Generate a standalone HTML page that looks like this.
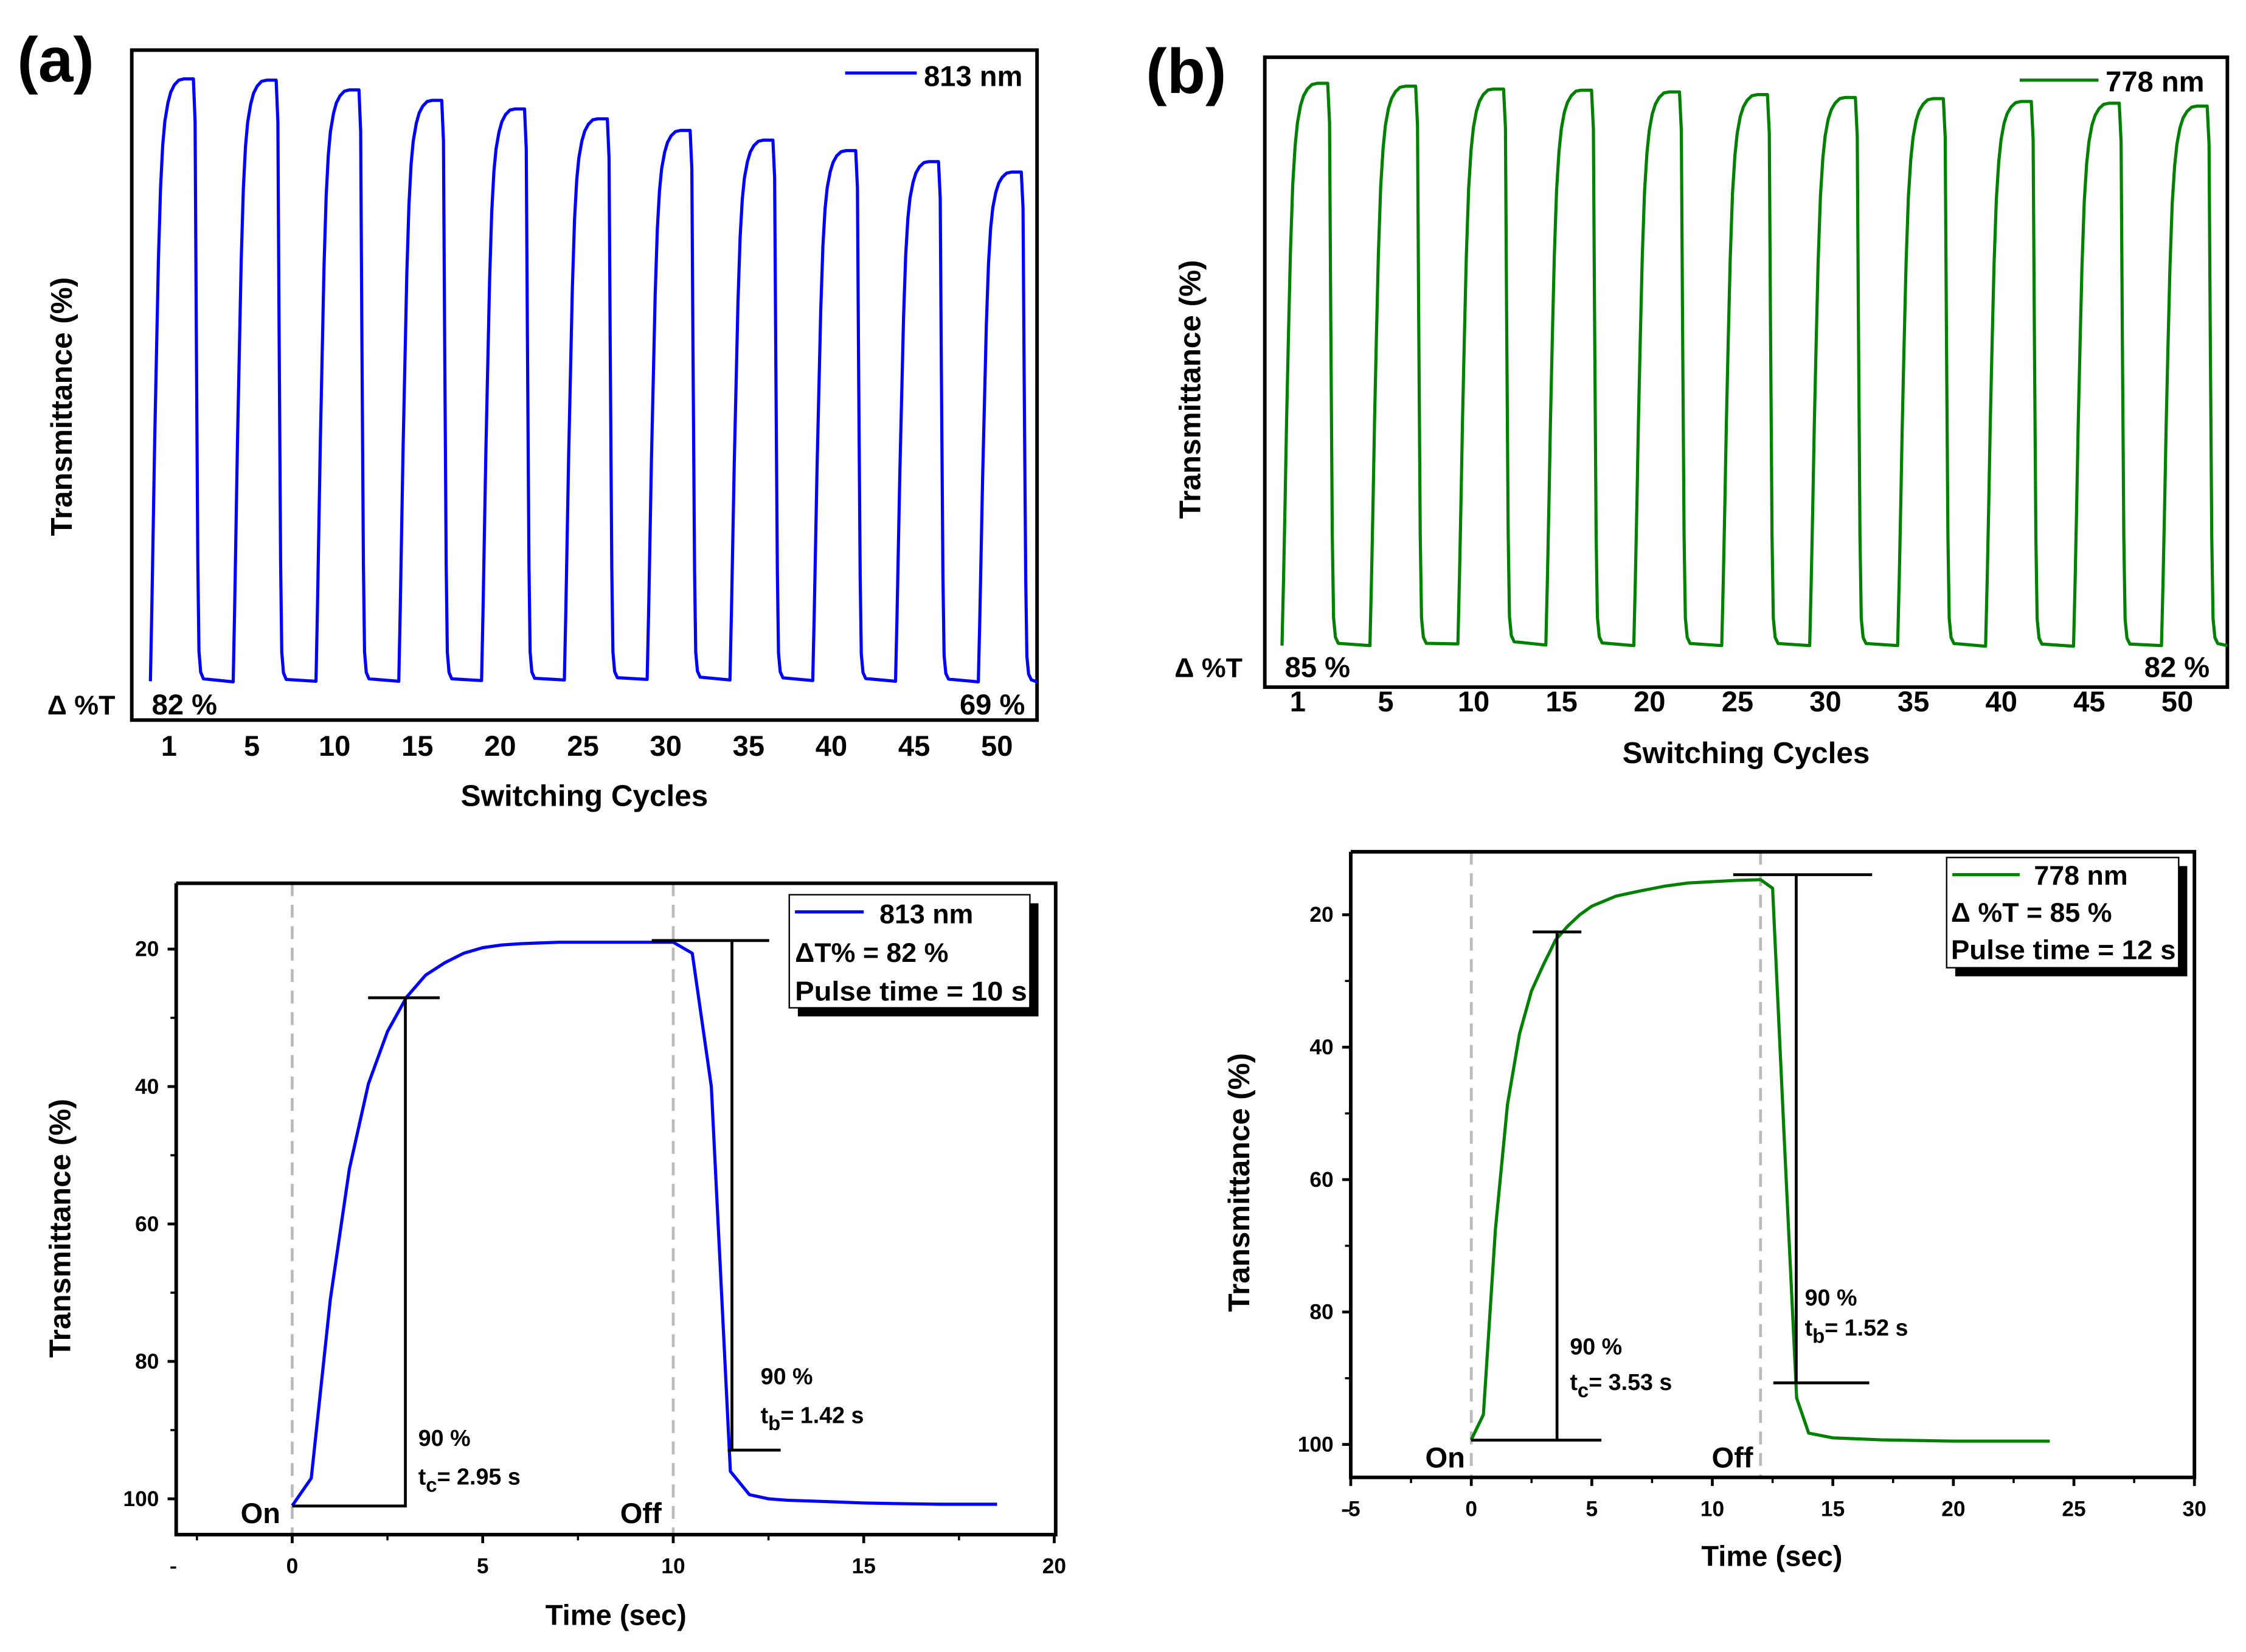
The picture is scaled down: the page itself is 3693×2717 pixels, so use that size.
<!DOCTYPE html>
<html><head><meta charset="utf-8"><style>
html,body{margin:0;padding:0;background:#fff;}
svg{display:block;}
text{font-family:"Liberation Sans",sans-serif;font-weight:bold;fill:#000;}
</style></head><body>
<svg id="fig" width="3693" height="2717" viewBox="0 0 1568 1154" preserveAspectRatio="none" xmlns="http://www.w3.org/2000/svg">
<rect x="0" y="0" width="1568" height="1154" fill="#fff"/>
<g id="pa"></g>
<g id="pb"></g>
<g id="pc"></g>
<g id="pd"></g>
</svg>
<script>
// ---------- data ----------
const cycleLabels = [1,5,10,15,20,25,30,35,40,45,50];
const topA = [98.8,98.6,97.0,95.3,93.9,92.3,90.4,88.8,87.1,85.3,83.6];
const botA = [0.5,0.4,0.5,0.5,0.6,0.7,0.8,0.7,0.6,0.5,0.4];
const topB = [99.2,98.7,98.2,98.0,97.7,97.2,96.7,96.5,96.0,95.7,95.2];
const botB = [0.5,0.5,0.8,0.6,0.5,0.5,0.5,0.5,0.4,0.4,0.5];

const timeA = [0,0.5,1,1.5,2,2.5,3,3.5,4,4.5,5,5.5,6,7,8,9,10,10.5,11,11.5,12,12.5,13,14,15,16,17,18.5];
const transA = [101,97,71,52,39.6,32,27,23.8,22,20.6,19.8,19.4,19.2,19,19,19,19,20.6,40,96,99.4,100,100.2,100.4,100.6,100.7,100.8,100.8];
const timeB = [0,0.5,1,1.5,2,2.5,3,3.5,4,4.5,5,6,7,8,9,10,11,12,12.5,13,13.5,14,15,17,20,24];
const transB = [99.3,95.5,67.5,48.7,38,31.5,27.5,23.8,21.7,20,18.7,17.2,16.4,15.7,15.2,15,14.8,14.7,16,55,93,98.3,99,99.3,99.5,99.5];
const yTicksResp = [20,40,60,80,100];
const xTicksA = [0,5,10,15,20];
const xTicksB = [-5,0,5,10,15,20,25,30];

const NS="http://www.w3.org/2000/svg";
function mk(parent,tag,attrs,txt){const e=document.createElementNS(NS,tag);for(const k in attrs)e.setAttribute(k,attrs[k]);if(txt!==undefined)e.textContent=txt;parent.appendChild(e);return e;}

// ---------- top cycle panels ----------
function cyclePanel(g,cfg){
  const f=mk(g,'rect',{x:cfg.L,y:cfg.T,width:cfg.R-cfg.L,height:cfg.B-cfg.T,fill:'none',stroke:'#000','stroke-width':2.5});
  
  const n=cycleLabels.length;
  const xS=i=>cfg.x0+i*(cfg.x1-cfg.x0)/(n-1);
  const yS=v=>cfg.yBot-(v/100)*(cfg.yBot-cfg.yTop);
  const s=cfg.period/57;
  const shape=[[0,0],[1,.12],[2,.26],[3,.4],[4.2,.55],[5.5,.7],[7,.82],[8.5,.89],[10,.93],[12,.96],[14,.978],[16.5,.99],[19.5,.998],[23,1],[29.6,1],[30.8,.93],[31.6,.6],[32.6,.2],[33.4,.05],[34.6,.015],[36.5,.004]];
  let d='';
  for(let i=0;i<n;i++){
    const xs=xS(i)+cfg.off, top=cfg.tops[i], bot=cfg.bots[i];
    const yb=yS(bot), yt=yS(top);
    shape.forEach(p=>{const x=xs+p[0]*s,y=yb+(yt-yb)*p[1];d+=(d===''?'M':'L')+x.toFixed(1)+','+y.toFixed(1);});
    const end=(i<n-1)?xS(i+1)+cfg.off:cfg.R;
    d+='L'+end.toFixed(1)+','+yS(i<n-1?cfg.bots[i+1]:bot).toFixed(1);
  }
  const p=mk(g,'path',{d:d,fill:'none',stroke:cfg.color,'stroke-width':2.2,'stroke-linejoin':'round'});
  
  cycleLabels.forEach((c,i)=>{
    const t=mk(g,'text',{x:xS(i),y:cfg.tickY,'text-anchor':'middle','font-size':20},String(c));
    
  });
}
cyclePanel(document.getElementById('pa'),{L:92,T:35,R:724,B:503,x0:118,x1:696,off:-13,period:57.8,yBot:478,yTop:50,tops:topA,bots:botA,color:'#0000ff',tickY:528});
cyclePanel(document.getElementById('pb'),{L:883,T:40,R:1555,B:480,x0:906,x1:1520,off:-11,period:61.4,yBot:453,yTop:55,tops:topB,bots:botB,color:'#008000',tickY:497});

// ---------- response panels ----------
function respPanel(g,cfg){
  const xS=t=>cfg.xa+(t-cfg.ta)*(cfg.xb-cfg.xa)/(cfg.tb-cfg.ta);
  const yS=v=>cfg.ya+(v-20)*(cfg.yb-cfg.ya)/80;
  cfg.dash.forEach(t=>{const l=mk(g,'line',{x1:xS(t),x2:xS(t),y1:cfg.T,y2:cfg.B,stroke:'#bbb','stroke-width':2,'stroke-dasharray':'9,6'});
    });
  const ax=mk(g,'path',{d:`M${cfg.L},${cfg.T}V${cfg.B}H${cfg.R}V${cfg.T}H${cfg.L}`,fill:'none',stroke:'#000','stroke-width':2.5});
  
  cfg.yt.forEach(v=>{
    mk(g,'line',{x1:cfg.L-6,x2:cfg.L,y1:yS(v),y2:yS(v),stroke:'#000','stroke-width':2});
    mk(g,'line',{x1:cfg.L-4,x2:cfg.L,y1:yS(v+10),y2:yS(v+10),stroke:'#000','stroke-width':1.5});
    const t=mk(g,'text',{x:cfg.L-12,y:yS(v)+5,'text-anchor':'end','font-size':15},String(v));
    
  });
  cfg.xt.forEach((v,i)=>{
    mk(g,'line',{x1:xS(v),x2:xS(v),y1:cfg.B,y2:cfg.B+6,stroke:'#000','stroke-width':2});
    if(i<cfg.xt.length-1)mk(g,'line',{x1:xS(v+2.5),x2:xS(v+2.5),y1:cfg.B,y2:cfg.B+4,stroke:'#000','stroke-width':1.5});
    const t=mk(g,'text',{x:xS(v),y:cfg.B+27,'text-anchor':'middle','font-size':15},String(v));
    
  });
  if(cfg.preMinor!==undefined)mk(g,'line',{x1:xS(cfg.preMinor),x2:xS(cfg.preMinor),y1:cfg.B,y2:cfg.B+4,stroke:'#000','stroke-width':1.5});
  let d='';cfg.time.forEach((t,i)=>{d+=(i?'L':'M')+xS(t).toFixed(1)+','+yS(cfg.tr[i]).toFixed(1);});
  const p=mk(g,'path',{d:d,fill:'none',stroke:cfg.color,'stroke-width':2.2,'stroke-linejoin':'round'});
  
}
respPanel(document.getElementById('pc'),{L:123,T:617,R:737,B:1072,xa:204,ta:0,xb:736,tb:20,ya:663,yb:1047,yt:yTicksResp,xt:xTicksA,preMinor:-2.5,dash:[0,10],time:timeA,tr:transA,color:'#0000ff'});
respPanel(document.getElementById('pd'),{L:943,T:595,R:1532,B:1032,xa:943,ta:-5,xb:1532,tb:30,ya:639,yb:1009,yt:yTicksResp,xt:xTicksB,dash:[0,12],time:timeB,tr:transB,color:'#008000'});
</script>
<script>
const svg=document.getElementById('fig');
svg.insertAdjacentHTML('beforeend',`
<g stroke="#000" stroke-width="2" fill="none">
<path d="M283,697V1052H204M257,697H307"/>
<path d="M455,657H537M511,657V1013M508,1013H545"/>
<path d="M1087,651V1006H1027M1118,1006H1087M1070,651H1104"/>
<path d="M1210,611H1307M1254,611V966M1238,966H1305"/>
</g>
<text x="12" y="57" font-size="44">(a)</text>
<text x="800" y="65" font-size="44">(b)</text>
<line x1="590" y1="51" x2="640" y2="51" stroke="#0000ff" stroke-width="2.2"/>
<text x="645" y="60" font-size="20">813 nm</text>
<line x1="1410" y1="56" x2="1465" y2="56" stroke="#008000" stroke-width="2.2"/>
<text x="1470" y="64" font-size="20">778 nm</text>
<text x="33" y="499" font-size="19">Δ %T</text>
<text x="106" y="499" font-size="20">82 %</text>
<text x="670" y="499" font-size="20">69 %</text>
<text x="820" y="473" font-size="19">Δ %T</text>
<text x="897" y="473" font-size="20">85 %</text>
<text x="1497" y="473" font-size="20">82 %</text>
<text x="408" y="563" font-size="21" text-anchor="middle">Switching Cycles</text>
<text x="1219" y="533" font-size="21" text-anchor="middle">Switching Cycles</text>
<text transform="translate(50,284) rotate(-90)" font-size="21" text-anchor="middle">Transmittance (%)</text>
<text transform="translate(838,272) rotate(-90)" font-size="21" text-anchor="middle">Transmittance (%)</text>
<text transform="translate(49,858) rotate(-90)" font-size="21" text-anchor="middle">Transmittance (%)</text>
<text transform="translate(872,826) rotate(-90)" font-size="21" text-anchor="middle">Transmittance (%)</text>
<text x="430" y="1135" font-size="20" text-anchor="middle">Time (sec)</text>
<text x="1237" y="1094" font-size="20" text-anchor="middle">Time (sec)</text>
<text x="168" y="1064" font-size="20">On</text>
<text x="433" y="1064" font-size="20">Off</text>
<text x="995" y="1025" font-size="20">On</text>
<text x="1195" y="1025" font-size="20">Off</text>
<text x="292" y="1010" font-size="16">90 %</text>
<text x="292" y="1037" font-size="16">t<tspan dy="5" font-size="14">c</tspan><tspan dy="-5">= 2.95 s</tspan></text>
<text x="531" y="967" font-size="16">90 %</text>
<text x="531" y="994" font-size="16">t<tspan dy="5" font-size="14">b</tspan><tspan dy="-5">= 1.42 s</tspan></text>
<text x="1096" y="946" font-size="16">90 %</text>
<text x="1096" y="971" font-size="16">t<tspan dy="5" font-size="14">c</tspan><tspan dy="-5">= 3.53 s</tspan></text>
<text x="1260" y="912" font-size="16">90 %</text>
<text x="1260" y="933" font-size="16">t<tspan dy="5" font-size="14">b</tspan><tspan dy="-5">= 1.52 s</tspan></text>
<g>
<rect x="557" y="631" width="168" height="79" fill="#000"/>
<rect x="551" y="625" width="168" height="79" fill="#fff" stroke="#000" stroke-width="1"/>
<line x1="555" y1="637" x2="603" y2="637" stroke="#0000ff" stroke-width="2.2"/>
<text x="614" y="645" font-size="19">813 nm</text>
<text x="555" y="672" font-size="19">ΔT% = 82 %</text>
<text x="555" y="699" font-size="19" textLength="162" lengthAdjust="spacingAndGlyphs">Pulse time = 10 s</text>
</g>
<g>
<rect x="1365" y="605" width="162" height="77" fill="#000"/>
<rect x="1359" y="599" width="162" height="77" fill="#fff" stroke="#000" stroke-width="1"/>
<line x1="1363" y1="611" x2="1410" y2="611" stroke="#008000" stroke-width="2.2"/>
<text x="1420" y="618" font-size="19">778 nm</text>
<text x="1362" y="644" font-size="19">Δ %T = 85 %</text>
<text x="1362" y="670" font-size="19" textLength="157" lengthAdjust="spacingAndGlyphs">Pulse time = 12 s</text>
</g>`);
</script>
</body></html>
